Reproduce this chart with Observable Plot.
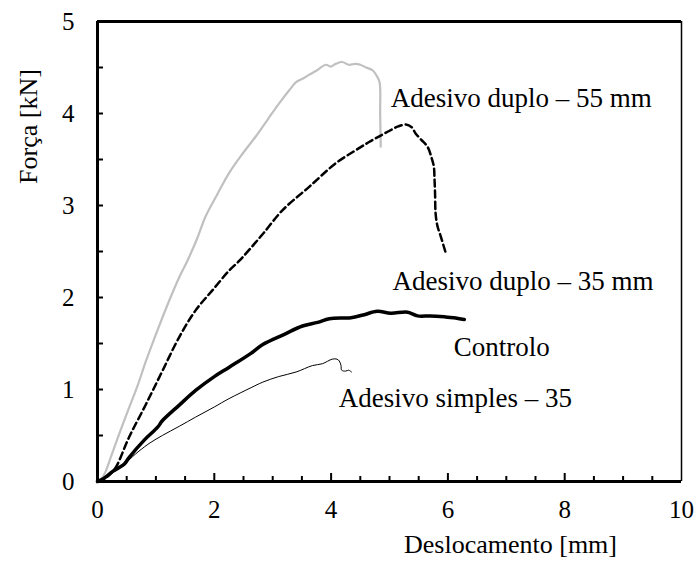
<!DOCTYPE html>
<html><head><meta charset="utf-8">
<script src="https://cdn.jsdelivr.net/npm/d3@7"></script>
<script src="https://cdn.jsdelivr.net/npm/@observablehq/plot@0.6"></script>
<style>body{margin:0;background:#fff}</style>
</head><body><div id="chart"></div><pre id="note" style="position:absolute;left:0;top:0;margin:0;font-size:1px;color:#fff;background:transparent"></pre>
<script>
const duplo55X = [0,0.08,0.14,0.22,0.31,0.42,0.54,0.68,0.83,0.97,1.11,1.25,1.40,1.54,1.70,1.85,2.05,2.25,2.48,2.71,2.92,3.11,3.28,3.40,3.52,3.62,3.76,3.91,3.99,4.08,4.19,4.30,4.42,4.50,4.60,4.71,4.78,4.83,4.84,4.85];
const duplo55Y = [0,0.04,0.11,0.25,0.41,0.60,0.80,1.03,1.31,1.55,1.78,2.00,2.22,2.40,2.63,2.88,3.12,3.35,3.56,3.75,3.94,4.11,4.25,4.34,4.38,4.42,4.47,4.53,4.51,4.54,4.56,4.53,4.54,4.53,4.50,4.47,4.41,4.34,4.00,3.64];
const duplo35X = [0,0.10,0.20,0.31,0.54,0.83,1.11,1.40,1.68,1.97,2.25,2.43,2.60,2.83,3.17,3.62,4.08,4.42,4.65,4.85,5.05,5.15,5.28,5.38,5.45,5.55,5.65,5.72,5.76,5.77,5.78,5.79,5.82,5.88,5.96];
const duplo35Y = [0,0.02,0.07,0.15,0.48,0.84,1.20,1.57,1.86,2.08,2.29,2.40,2.52,2.69,2.95,3.20,3.46,3.60,3.69,3.76,3.83,3.86,3.88,3.85,3.78,3.71,3.64,3.52,3.42,3.30,3.13,2.91,2.78,2.66,2.49];
const controloX = [0,0.10,0.26,0.46,0.54,0.80,1.03,1.11,1.40,1.68,2.00,2.25,2.62,2.83,3.20,3.51,3.77,3.97,4.34,4.55,4.79,5.02,5.31,5.48,5.70,5.94,6.10,6.28];
const controloY = [0,0.03,0.11,0.19,0.26,0.45,0.59,0.66,0.83,0.99,1.14,1.24,1.39,1.49,1.60,1.69,1.73,1.77,1.78,1.81,1.85,1.83,1.84,1.80,1.80,1.79,1.78,1.76];
const simplesX = [0,0.10,0.26,0.46,0.60,0.71,0.90,1.11,1.40,1.68,2.00,2.25,2.63,2.83,3.10,3.40,3.68,3.85,4.02,4.10,4.14,4.17,4.18,4.25,4.30,4.35];
const simplesY = [0,0.03,0.11,0.19,0.27,0.33,0.42,0.50,0.60,0.70,0.81,0.90,1.02,1.08,1.14,1.19,1.26,1.28,1.33,1.33,1.31,1.26,1.21,1.20,1.21,1.19];

const labels = ["Adesivo duplo – 55 mm","Adesivo duplo – 35 mm","Controlo","Adesivo simples – 35"];
const labelX = [5.02,5.05,6.10,4.13];
const labelY = [4.17,2.18,1.46,0.90];

const xTicks = [0,2,4,6,8,10];
const yTicks = [0,1,2,3,4,5];
const xMinor = [0.5,1,1.5,2.5,3,3.5,4.5,5,5.5,6.5,7,7.5,8.5,9,9.5];
const xMajorInner = [2,4,6,8];
const yInner = [0.5,1,1.5,2,2.5,3,3.5,4,4.5];
const xTitle = "Deslocamento [mm]";
const yTitle = "Força [kN]";

const zip = (xs, ys) => xs.map((x,i)=>({x, y: ys[i]}));
const W = 697, H = 570, mL = 97, mR = 16, mT = 21, mB = 89;
const pw = W - mL - mR, ph = H - mT - mB;
const font = "Liberation Serif, Times New Roman, serif";

const chart = Plot.plot({
  width: W, height: H,
  marginLeft: mL, marginRight: mR, marginTop: mT, marginBottom: mB,
  style: {fontFamily: font, background: "#fff", color: "#000"},
  x: {domain: [0,10]},
  y: {domain: [0,5]},
  marks: [
    Plot.axisX(xTicks, {tickSize: 0, tickPadding: 19, fontSize: 25, label: null, tickFormat: d=>d}),
    Plot.axisY(yTicks, {tickSize: 0, tickPadding: 23, fontSize: 25, label: null, tickFormat: d=>d}),
    Plot.line(zip(duplo55X, duplo55Y), {x: "x", y: "y", stroke: "#c0c0c0", strokeWidth: 2.2, curve: "catmull-rom"}),
    Plot.line(zip(simplesX, simplesY), {x: "x", y: "y", stroke: "#000", strokeWidth: 1, curve: "catmull-rom"}),
    Plot.line(zip(controloX, controloY), {x: "x", y: "y", stroke: "#000", strokeWidth: 3.5, curve: "catmull-rom"}),
    Plot.line(zip(duplo35X, duplo35Y), {x: "x", y: "y", stroke: "#000", strokeWidth: 2.5, strokeDasharray: "7,4", curve: "catmull-rom"}),
    Plot.ruleX(xMinor, {insetTop: ph-5, stroke: "#000", strokeWidth: 2}),
    Plot.ruleX(xMajorInner, {insetTop: ph-8, stroke: "#000", strokeWidth: 2}),
    Plot.ruleY(yInner, {insetRight: pw-6, stroke: "#000", strokeWidth: 2}),
    Plot.ruleX([10], {stroke: "#000", strokeWidth: 1.5}),
    Plot.ruleY([5], {stroke: "#000", strokeWidth: 3}),
    Plot.ruleX([0], {stroke: "#000", strokeWidth: 3}),
    Plot.ruleY([0], {stroke: "#000", strokeWidth: 3}),
    Plot.text(labels.map((t,i)=>({t, x: labelX[i], y: labelY[i]})), {x: "x", y: "y", text: "t", textAnchor: "start", fontSize: 27, fill: "#000"}),
    Plot.text([xTitle], {frameAnchor: "bottom", textAnchor: "middle", dx: 121, dy: 71, fontSize: 26, fill: "#000"}),
    Plot.text([yTitle], {frameAnchor: "left", textAnchor: "middle", rotate: -90, dx: -69, dy: -125, fontSize: 26, fill: "#000"})
  ]
});
document.getElementById("chart").appendChild(chart);
document.getElementById("note").textContent = "\u00a0";
</script></body></html>
